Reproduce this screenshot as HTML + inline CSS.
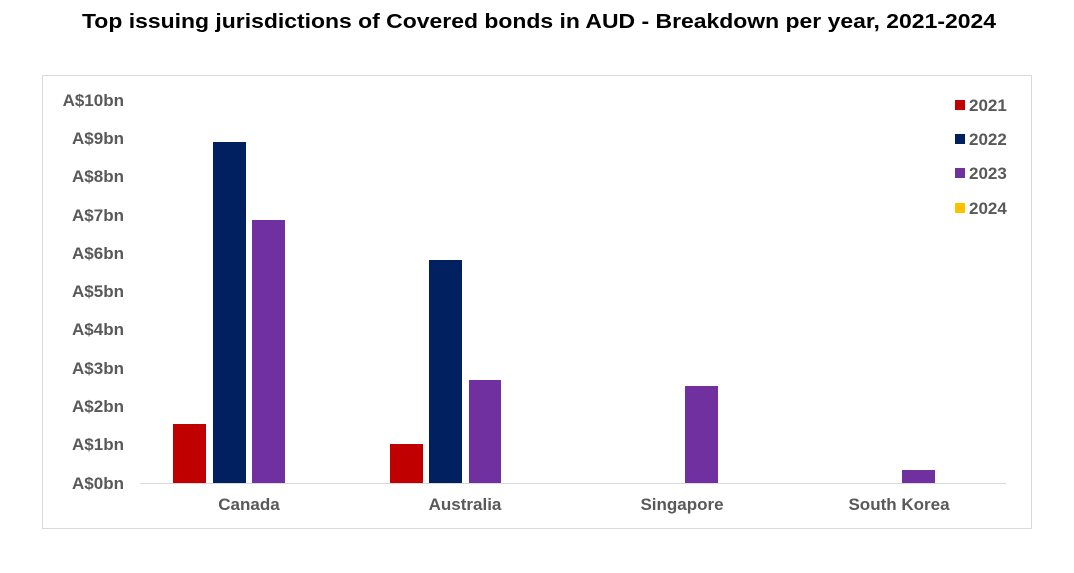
<!DOCTYPE html>
<html><head><meta charset="utf-8"><style>
body{margin:0;background:#fff;width:1074px;height:568px;overflow:hidden;font-family:"Liberation Sans",Arial,sans-serif;}
</style></head><body>
<svg width="1074" height="568" xmlns="http://www.w3.org/2000/svg" font-family="Liberation Sans, Arial, sans-serif">
<text x="82" y="28" font-size="20" font-weight="bold" fill="#000" textLength="914" lengthAdjust="spacingAndGlyphs">Top issuing jurisdictions of Covered bonds in AUD - Breakdown per year, 2021-2024</text>
<rect x="42.5" y="75.5" width="989" height="453" fill="#fff" stroke="#d9d9d9"/>
<g font-size="17" font-weight="bold" fill="#595959" text-anchor="end">
<text x="124" y="106">A$10bn</text>
<text x="124" y="144">A$9bn</text>
<text x="124" y="182">A$8bn</text>
<text x="124" y="221">A$7bn</text>
<text x="124" y="259">A$6bn</text>
<text x="124" y="297">A$5bn</text>
<text x="124" y="335">A$4bn</text>
<text x="124" y="374">A$3bn</text>
<text x="124" y="412">A$2bn</text>
<text x="124" y="450">A$1bn</text>
<text x="124" y="489">A$0bn</text>
</g>
<g>
<rect x="173" y="424" width="33" height="59" fill="#C00000"/>
<rect x="213" y="142" width="33" height="341" fill="#002060"/>
<rect x="252" y="220" width="33" height="263" fill="#7030A0"/>
<rect x="390" y="444" width="33" height="39" fill="#C00000"/>
<rect x="429" y="260" width="33" height="223" fill="#002060"/>
<rect x="469" y="380" width="32" height="103" fill="#7030A0"/>
<rect x="685" y="386" width="33" height="97" fill="#7030A0"/>
<rect x="902" y="470" width="33" height="13" fill="#7030A0"/>
</g>
<line x1="140" y1="483.5" x2="1006" y2="483.5" stroke="#d9d9d9"/>
<g font-size="17" font-weight="bold" fill="#595959" text-anchor="middle">
<text x="249" y="510">Canada</text>
<text x="465" y="510">Australia</text>
<text x="682" y="510">Singapore</text>
<text x="899" y="510">South Korea</text>
</g>
<g font-size="17" font-weight="bold" fill="#595959">
<rect x="955" y="100" width="10" height="10" fill="#C00000"/><text x="969" y="111">2021</text>
<rect x="955" y="134" width="10" height="10" fill="#002060"/><text x="969" y="145">2022</text>
<rect x="955" y="168" width="10" height="10" fill="#7030A0"/><text x="969" y="179">2023</text>
<rect x="955" y="203" width="10" height="10" fill="#FFC000"/><text x="969" y="214">2024</text>
</g>
</svg>
</body></html>
